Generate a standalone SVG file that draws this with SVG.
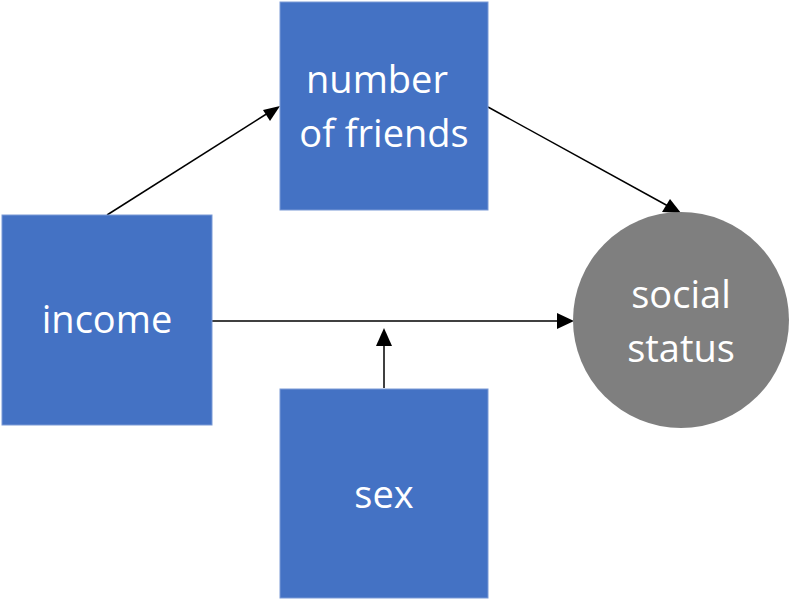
<svg xmlns="http://www.w3.org/2000/svg" width="790" height="599" viewBox="0 0 790 599">
<style>
.box{fill:#4472C4;stroke:#7A9AD6;stroke-width:1}
.circ{fill:#7F7F7F}
.lbl{font-family:"Open Sans","Noto Sans",sans-serif;font-size:38px;fill:#FFFFFF;text-anchor:middle}
</style>
<rect width="790" height="599" fill="#FFFFFF"/>
<g id="connectors">
<line x1="107" y1="215" x2="268" y2="113" stroke="#000" stroke-width="1.5"/>
<path d="M280,106 L263,110 L270,121 z" fill="#000"/>
<line x1="488" y1="107" x2="668" y2="206" stroke="#000" stroke-width="1.5"/>
<path d="M681,213 L662,212 L670,199 z" fill="#000"/>
<line x1="212" y1="321" x2="560" y2="321" stroke="#000" stroke-width="1.5"/>
<path d="M574,321 L557,313 L557,329 z" fill="#000"/>
<line x1="384" y1="388" x2="384" y2="342" stroke="#000" stroke-width="1.5"/>
<path d="M384,328 L376,346 L392,346 z" fill="#000"/>
</g>
<g id="number_of_friends">
<rect class="box" x="280" y="2" width="208" height="208"/>
<text class="lbl" x="377" y="93">number</text>
<text class="lbl" x="384" y="147">of friends</text>
</g>
<g id="income">
<rect class="box" x="2" y="215" width="210" height="210"/>
<text class="lbl" x="107" y="333">income</text>
</g>
<g id="sex">
<rect class="box" x="280" y="389" width="208" height="209"/>
<text class="lbl" x="384" y="508">sex</text>
</g>
<g id="social_status">
<circle class="circ" cx="681" cy="320" r="108"/>
<text class="lbl" x="681" y="308">social</text>
<text class="lbl" x="681" y="362">status</text>
</g>
</svg>
